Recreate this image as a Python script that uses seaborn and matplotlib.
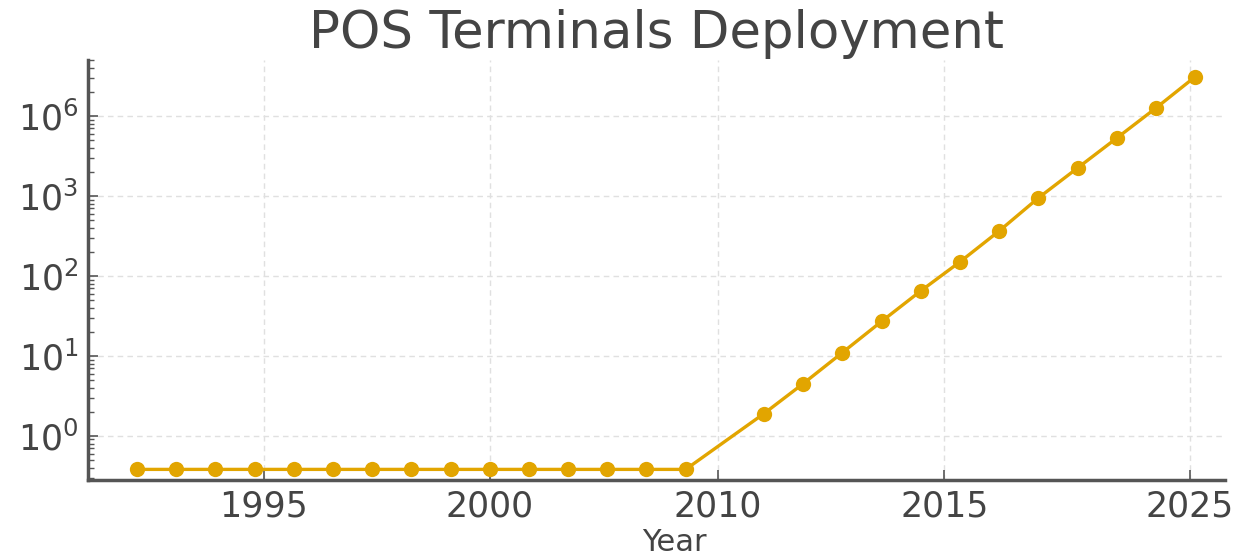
import matplotlib
matplotlib.use("Agg")
import matplotlib.pyplot as plt
import matplotlib.ticker as mticker
import seaborn as sns
import pandas as pd

# Observation index along the time axis and the deployed terminal counts
steps = [0, 1, 2, 3, 4, 5, 6, 7, 8, 9, 10, 11, 12, 13, 14,
         16, 17, 18, 19, 20, 21, 22, 23, 24, 25, 26, 27]
terminals = [0.38, 0.38, 0.38, 0.38, 0.38, 0.38, 0.38, 0.38, 0.38, 0.38,
             0.38, 0.38, 0.38, 0.38, 0.38,
             1.9, 4.5, 11, 27, 65, 150, 365, 945, 2240, 5300, 12600, 31000]

# Axis tick placement and labels
year_tick_pos = [3.24, 9.0, 14.82, 20.6, 26.86]
year_tick_labels = ["1995", "2000", "2010", "2015", "2025"]
y_tick_pos = [1, 10, 100, 1000, 10000]
y_tick_labels = ["$10^{0}$", "$10^{1}$", "$10^{2}$", "$10^{3}$", "$10^{6}$"]

df = pd.DataFrame({"step": steps, "terminals": terminals})

sns.set_style("whitegrid")
plt.rcParams["font.family"] = ["DejaVu Sans"]
plt.rcParams["mathtext.fontset"] = "dejavusans"

text_color = "#444444"
line_color = "#E2A500"

fig = plt.figure(figsize=(12.43, 5.56), dpi=100)
ax = fig.add_axes([0.0708, 0.1367, 0.9147, 0.7553])

sns.lineplot(data=df, x="step", y="terminals", ax=ax, color=line_color,
             linewidth=2.4, marker="o", markersize=11,
             markeredgewidth=0, markerfacecolor=line_color)

ax.set_yscale("log")
ax.set_ylim(0.28, 50100)
ax.set_xlim(-1.25, 27.76)

ax.set_xticks(year_tick_pos)
ax.set_xticklabels(year_tick_labels)
ax.yaxis.set_major_locator(mticker.FixedLocator(y_tick_pos))
ax.yaxis.set_major_formatter(mticker.FixedFormatter(y_tick_labels))
ax.yaxis.set_minor_locator(mticker.LogLocator(base=10, subs=range(2, 10), numticks=20))
ax.yaxis.set_minor_formatter(mticker.NullFormatter())

ax.set_title("POS Terminals Deployment", fontsize=37, color=text_color, pad=9)
ax.set_xlabel("Year", fontsize=22, color=text_color)
ax.xaxis.set_label_coords(0.516, -0.115)
ax.xaxis.label.set_verticalalignment("top")
ax.set_ylabel("")

ax.tick_params(axis="both", which="major", direction="in", length=7, width=1.2,
               color="#555555", labelsize=25, labelcolor=text_color, pad=7)
ax.tick_params(axis="y", which="minor", direction="in", length=4, width=1.0,
               color="#555555", left=True)
ax.tick_params(axis="x", which="both", bottom=True)
ax.tick_params(axis="y", which="both", left=True)

ax.grid(True, which="major", linestyle=(0, (4, 3)), color="#e0e0e0", linewidth=1.0)
ax.grid(False, which="minor")

for side in ["top", "right"]:
    ax.spines[side].set_visible(False)
for side in ["left", "bottom"]:
    ax.spines[side].set_visible(True)
    ax.spines[side].set_color("#555555")
    ax.spines[side].set_linewidth(2.5)

fig.savefig("out.png", dpi=100)
